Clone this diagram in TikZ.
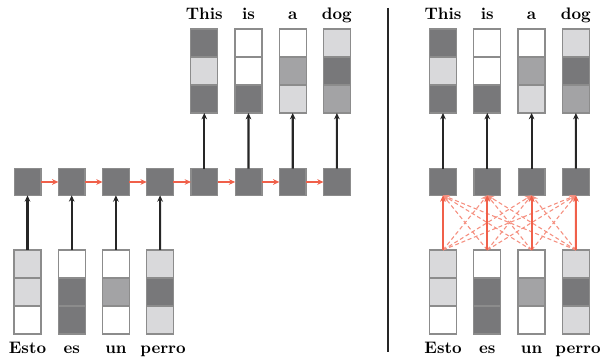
\documentclass[tikz,border=0pt]{standalone}
\usepackage{tikz}
\usetikzlibrary{arrows.meta,positioning}
\definecolor{cdark}{RGB}{120,120,122}
\definecolor{cmid}{RGB}{163,163,165}
\definecolor{clight}{RGB}{217,217,219}
\definecolor{attn}{RGB}{240,96,74}
\tikzset{
    >={Stealth[length=3.8pt,width=3.4pt]},
    every picture/.style={line width=0.6pt},
    cell/.style={rectangle,draw=black!45,line width=0.8pt,minimum width=16.2pt,minimum height=16.8pt,inner sep=0pt,outer sep=0pt},
    hid/.style={rectangle,draw=black!45,line width=0.8pt,fill=cdark,minimum size=16pt,inner sep=0pt,outer sep=0pt},
    word/.style={font=\bfseries,inner sep=0pt,anchor=base},
    up/.style={->,line width=1.3pt,black!85},
    rec/.style={->,line width=1pt,attn},
    att/.style={->,line width=1.3pt,attn},
    attd/.style={->,line width=0.65pt,attn!70,dash pattern=on 2.4pt off 1.6pt}
}
\newcommand{\wordvec}[6]{%
    \node[cell,fill=#4] (#1-1) at (#2,#3) {};
    \node[cell,fill=#5,below=0pt of #1-1] (#1-2) {};
    \node[cell,fill=#6,below=0pt of #1-2] (#1-3) {};
}

\begin{document}
\begin{tikzpicture}[x=0.6pt,y=-0.6pt]
    \useasboundingbox (0,0) rectangle (600,357);

    % left: recurrent encoder-decoder
    \wordvec{srcA1}{27.5}{264}{clight}{clight}{white}
    \wordvec{srcA2}{71.7}{264}{white}{cdark}{cdark}
    \wordvec{srcA3}{115.9}{264}{white}{cmid}{white}
    \wordvec{srcA4}{160.1}{264}{clight}{cdark}{clight}
    \foreach \i in {1,...,8}
        \node[hid] (rnn\i) at ({27.5+44.2*(\i-1)},182) {};
    \wordvec{tgtA1}{204.3}{43}{cdark}{clight}{cdark}
    \wordvec{tgtA2}{248.5}{43}{white}{white}{cdark}
    \wordvec{tgtA3}{292.7}{43}{white}{cmid}{clight}
    \wordvec{tgtA4}{336.9}{43}{clight}{cdark}{cmid}

    \node[word] (inA1) at (27.5,353) {Esto};
    \node[word] (inA2) at (71.7,353) {es};
    \node[word] (inA3) at (115.9,353) {un};
    \node[word] (inA4) at (163,353) {perro};
    \node[word] (outA1) at (204.3,20) {This};
    \node[word] (outA2) at (248.5,20) {is};
    \node[word] (outA3) at (292.7,20) {a};
    \node[word] (outA4) at (336.9,20) {dog};

    \foreach \i in {1,...,4}
        \draw[up] (srcA\i-1) -- (rnn\i);
    \foreach \i [evaluate=\i as \j using int(\i+4)] in {1,...,4}
        \draw[up] (rnn\j) -- (tgtA\i-3);
    \foreach \i [evaluate=\i as \j using int(\i+1)] in {1,...,7}
        \draw[rec] (rnn\i) -- (rnn\j);

    % divider
    \draw[black!85,line width=0.7pt] (388,8) -- (388,352);

    % right: attention
    \wordvec{srcB1}{443}{264}{clight}{clight}{white}
    \wordvec{srcB2}{487.3}{264}{white}{cdark}{cdark}
    \wordvec{srcB3}{531.6}{264}{white}{cmid}{white}
    \wordvec{srcB4}{575.9}{264}{clight}{cdark}{clight}
    \foreach \i in {1,...,4}
        \node[hid] (att\i) at ({443+44.3*(\i-1)},182) {};
    \wordvec{tgtB1}{443}{43}{cdark}{clight}{cdark}
    \wordvec{tgtB2}{487.3}{43}{white}{white}{cdark}
    \wordvec{tgtB3}{531.6}{43}{white}{cmid}{clight}
    \wordvec{tgtB4}{575.9}{43}{clight}{cdark}{cmid}

    \node[word] (inB1) at (443,353) {Esto};
    \node[word] (inB2) at (487.3,353) {es};
    \node[word] (inB3) at (531.6,353) {un};
    \node[word] (inB4) at (578,353) {perro};
    \node[word] (outB1) at (443,20) {This};
    \node[word] (outB2) at (487.3,20) {is};
    \node[word] (outB3) at (531.6,20) {a};
    \node[word] (outB4) at (575.9,20) {dog};

    \foreach \i in {1,...,4}
        \foreach \j in {1,...,4} {
            \ifnum\i=\j\relax\else
                \draw[attd] (srcB\i-1.north) -- (att\j.south);
            \fi
        }
    \foreach \i in {1,...,4} {
        \draw[att] (srcB\i-1) -- (att\i);
        \draw[up] (att\i) -- (tgtB\i-3);
    }
\end{tikzpicture}
\end{document}
